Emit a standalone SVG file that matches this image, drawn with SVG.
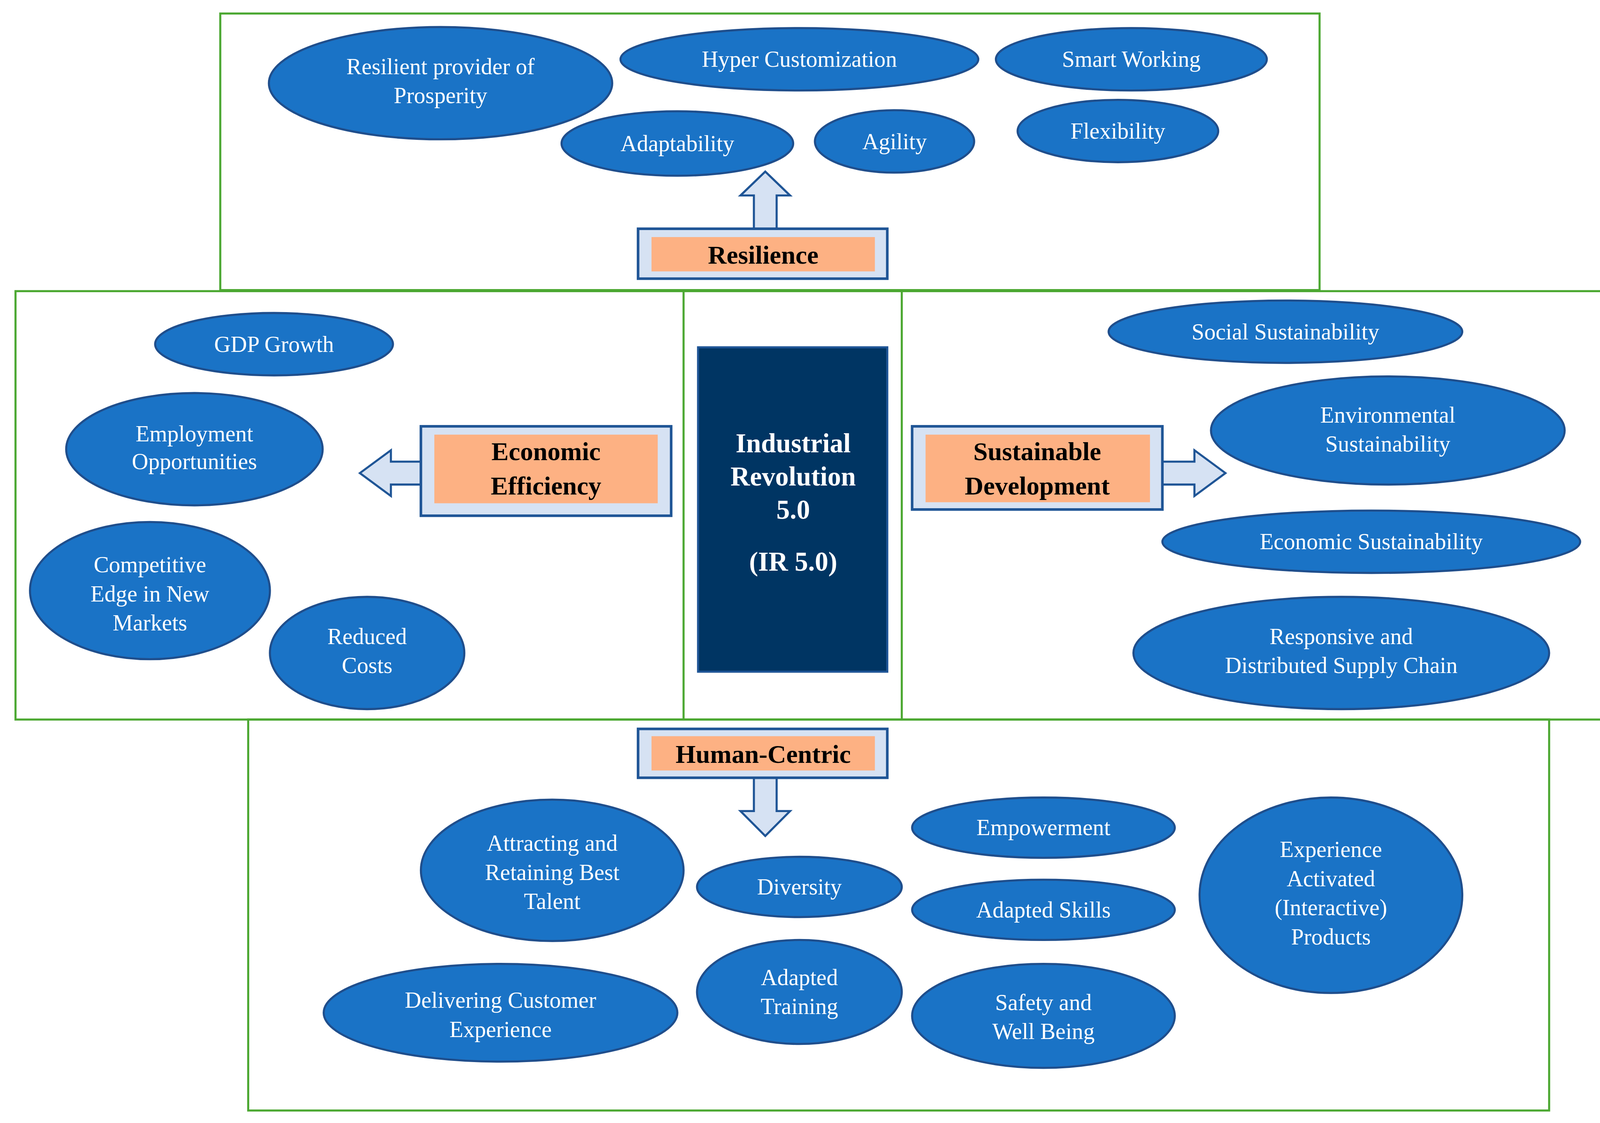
<svg xmlns="http://www.w3.org/2000/svg" width="4130" height="2875" viewBox="0 0 4130 2875">
<style>
.pane{fill:none;stroke:#4ca832;stroke-width:2}
.el{fill:#1a73c6;stroke:#1f4e8c;stroke-width:2}
.et{fill:#fff;font-family:"Liberation Serif",serif;font-size:22px;text-anchor:middle;dominant-baseline:central}
.ob{fill:#d6e2f3;stroke:#1f5596;stroke-width:2.5}
.ib{fill:#fdb183}
.bt{fill:#000;font-family:"Liberation Serif",serif;font-size:25px;font-weight:bold;text-anchor:middle;dominant-baseline:central}
.ar{fill:#d6e2f3;stroke:#1f5596;stroke-width:2}
.ct{fill:#fff;font-family:"Liberation Serif",serif;font-size:26px;font-weight:bold;text-anchor:middle;dominant-baseline:central}
</style>
<rect width="4130" height="2875" fill="#fff"/>
<g transform="scale(2.6474,2.662)">
<g id="panes">
<rect class="pane" x="213" y="13" width="1063" height="266"/>
<rect class="pane" x="15" y="280" width="1535" height="412"/>
<line class="pane" x1="661" y1="280" x2="661" y2="692"/>
<line class="pane" x1="872" y1="280" x2="872" y2="692"/>
<rect class="pane" x="240" y="692" width="1258" height="376"/>
</g>
<g id="connectors">
<polygon class="ar" points="729,220 729,188 716,188 740,165 764,188 751,188 751,220"/>
<polygon class="ar" points="407,444 378,444 378,433 348,455 378,477 378,466 407,466"/>
<polygon class="ar" points="1124,444 1155,444 1155,433 1185,455 1155,477 1155,466 1124,466"/>
<polygon class="ar" points="729,748 729,780 716,780 740,804 764,780 751,780 751,748"/>
</g>
<g id="center"><rect x="675" y="334" width="183" height="312" fill="#003563" stroke="#1f5596" stroke-width="2"/>
<text class="ct" x="767" y="426">Industrial</text><text class="ct" x="767" y="458">Revolution</text><text class="ct" x="767" y="490">5.0</text><text class="ct" x="767" y="540">(IR 5.0)</text></g>
<g id="resilience"><rect class="ob" x="617" y="220" width="241" height="48"/><rect class="ib" x="630" y="228" width="216" height="33"/><text class="bt" x="738" y="245">Resilience</text></g>
<g id="economic"><rect class="ob" x="407" y="410" width="242" height="86"/><rect class="ib" x="420" y="418" width="216" height="66"/><text class="bt" x="528" y="434">Economic</text><text class="bt" x="528" y="467">Efficiency</text></g>
<g id="sustainable"><rect class="ob" x="882" y="410" width="242" height="80"/><rect class="ib" x="895" y="418" width="217" height="65"/><text class="bt" x="1003" y="434">Sustainable</text><text class="bt" x="1003" y="467">Development</text></g>
<g id="human"><rect class="ob" x="617" y="701" width="241" height="47"/><rect class="ib" x="630" y="708" width="216" height="33"/><text class="bt" x="738" y="725">Human-Centric</text></g>
<g id="n1"><ellipse class="el" cx="426" cy="80" rx="166" ry="54"/><text class="et" x="426" y="64">Resilient provider of</text><text class="et" x="426" y="92">Prosperity</text></g>
<g id="n2"><ellipse class="el" cx="773" cy="57" rx="173" ry="30"/><text class="et" x="773" y="57">Hyper Customization</text></g>
<g id="n3"><ellipse class="el" cx="1094" cy="57" rx="131" ry="30"/><text class="et" x="1094" y="57">Smart Working</text></g>
<g id="n4"><ellipse class="el" cx="655" cy="138" rx="112" ry="31"/><text class="et" x="655" y="138">Adaptability</text></g>
<g id="n5"><ellipse class="el" cx="865" cy="136" rx="77" ry="30"/><text class="et" x="865" y="136">Agility</text></g>
<g id="n6"><ellipse class="el" cx="1081" cy="126" rx="97" ry="30"/><text class="et" x="1081" y="126">Flexibility</text></g>
<g id="n7"><ellipse class="el" cx="265" cy="331" rx="115" ry="30"/><text class="et" x="265" y="331">GDP Growth</text></g>
<g id="n8"><ellipse class="el" cx="188" cy="432" rx="124" ry="54"/><text class="et" x="188" y="417">Employment</text><text class="et" x="188" y="444">Opportunities</text></g>
<g id="n9"><ellipse class="el" cx="145" cy="568" rx="116" ry="66"/><text class="et" x="145" y="543">Competitive</text><text class="et" x="145" y="571">Edge in New</text><text class="et" x="145" y="599">Markets</text></g>
<g id="n10"><ellipse class="el" cx="355" cy="628" rx="94" ry="54"/><text class="et" x="355" y="612">Reduced</text><text class="et" x="355" y="640">Costs</text></g>
<g id="n11"><ellipse class="el" cx="1243" cy="319" rx="171" ry="30"/><text class="et" x="1243" y="319">Social Sustainability</text></g>
<g id="n12"><ellipse class="el" cx="1342" cy="414" rx="171" ry="52"/><text class="et" x="1342" y="399">Environmental</text><text class="et" x="1342" y="427">Sustainability</text></g>
<g id="n13"><ellipse class="el" cx="1326" cy="521" rx="202" ry="30"/><text class="et" x="1326" y="521">Economic Sustainability</text></g>
<g id="n14"><ellipse class="el" cx="1297" cy="628" rx="201" ry="54"/><text class="et" x="1297" y="612">Responsive and</text><text class="et" x="1297" y="640">Distributed Supply Chain</text></g>
<g id="n15"><ellipse class="el" cx="534" cy="837" rx="127" ry="68"/><text class="et" x="534" y="811">Attracting and</text><text class="et" x="534" y="839">Retaining Best</text><text class="et" x="534" y="867">Talent</text></g>
<g id="n16"><ellipse class="el" cx="773" cy="853" rx="99" ry="29"/><text class="et" x="773" y="853">Diversity</text></g>
<g id="n17"><ellipse class="el" cx="1009" cy="796" rx="127" ry="29"/><text class="et" x="1009" y="796">Empowerment</text></g>
<g id="n18"><ellipse class="el" cx="1009" cy="875" rx="127" ry="29"/><text class="et" x="1009" y="875">Adapted Skills</text></g>
<g id="n19"><ellipse class="el" cx="1287" cy="861" rx="127" ry="94"/><text class="et" x="1287" y="817">Experience</text><text class="et" x="1287" y="845">Activated</text><text class="et" x="1287" y="873">(Interactive)</text><text class="et" x="1287" y="901">Products</text></g>
<g id="n20"><ellipse class="el" cx="484" cy="974" rx="171" ry="47"/><text class="et" x="484" y="962">Delivering Customer</text><text class="et" x="484" y="990">Experience</text></g>
<g id="n21"><ellipse class="el" cx="773" cy="954" rx="99" ry="50"/><text class="et" x="773" y="940">Adapted</text><text class="et" x="773" y="968">Training</text></g>
<g id="n22"><ellipse class="el" cx="1009" cy="977" rx="127" ry="50"/><text class="et" x="1009" y="964">Safety and</text><text class="et" x="1009" y="992">Well Being</text></g>
</g>
</svg>
